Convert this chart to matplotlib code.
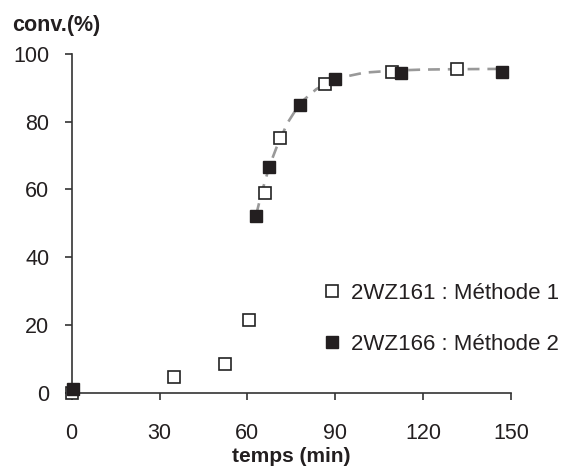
import matplotlib
matplotlib.use("Agg")
import matplotlib.pyplot as plt

plt.rcParams['font.family'] = ['Liberation Sans', 'DejaVu Sans']

# Data
m1_x = [0, 35, 52.5, 60.5, 66, 71, 86.5, 109.5, 131.5]
m1_y = [0, 4.7, 8.4, 21.5, 59, 75.3, 91.1, 94.6, 95.5]
m2_x = [0.5, 63, 67.5, 78, 90, 112.5, 147]
m2_y = [1, 52, 66.7, 85, 92.6, 94.5, 94.7]
trend_x = [63, 64, 66, 68, 70, 73.6, 78, 83.5, 90, 100, 110, 120, 130, 147]
trend_y = [52.5, 56, 62.5, 68, 72.5, 79.5, 85.5, 89.6, 92.7, 94.5, 95.1, 95.4, 95.5, 95.6]
x_ticks = [0, 30, 60, 90, 120, 150]
y_ticks = [0, 20, 40, 60, 80, 100]
label1 = "2WZ161 : Méthode 1"
label2 = "2WZ166 : Méthode 2"

fig = plt.figure(figsize=(5.68, 4.72), dpi=100)
ax = fig.add_axes([0.1262, 0.1684, 0.7734, 0.7172])

ax.plot(trend_x, trend_y, linestyle=(0, (4.5, 3.0)), color='#999999', lw=1.9, zorder=1)
ax.plot(m1_x, m1_y, linestyle='none', marker='s', markersize=8.2, markerfacecolor='white',
        markeredgecolor='#222222', markeredgewidth=1.2, clip_on=False, zorder=3, label=label1)
ax.plot(m2_x, m2_y, linestyle='none', marker='s', markersize=8.2, markerfacecolor='#231f20',
        markeredgecolor='#231f20', markeredgewidth=1.0, clip_on=False, zorder=4, label=label2)

ax.set_xlim(0, 150)
ax.set_ylim(0, 100)
ax.set_xticks(x_ticks)
ax.set_yticks(y_ticks)
for s in ['top', 'right']:
    ax.spines[s].set_visible(False)
for s in ['left', 'bottom']:
    ax.spines[s].set_color('#333333')
    ax.spines[s].set_linewidth(1.2)
ax.tick_params(axis='both', direction='out', length=5, width=1.2, color='#333333',
               labelsize=15.5, labelcolor='#231f20')
ax.tick_params(axis='x', pad=17)
ax.tick_params(axis='y', pad=11)

ax.set_xlabel('temps (min)', fontsize=15, fontweight='bold', color='#231f20', labelpad=2)
fig.text(0.022, 0.947, 'conv.(%)', fontsize=15.5, fontweight='bold', color='#231f20',
         ha='left', va='center')

leg = ax.legend(loc='center left', bbox_to_anchor=(0.553, 0.218), frameon=False,
                fontsize=16, labelspacing=1.35, handlelength=0.6, handletextpad=0.55,
                markerscale=1.0, borderpad=0)
for t in leg.get_texts():
    t.set_color('#231f20')

fig.savefig('out.png', dpi=100)
